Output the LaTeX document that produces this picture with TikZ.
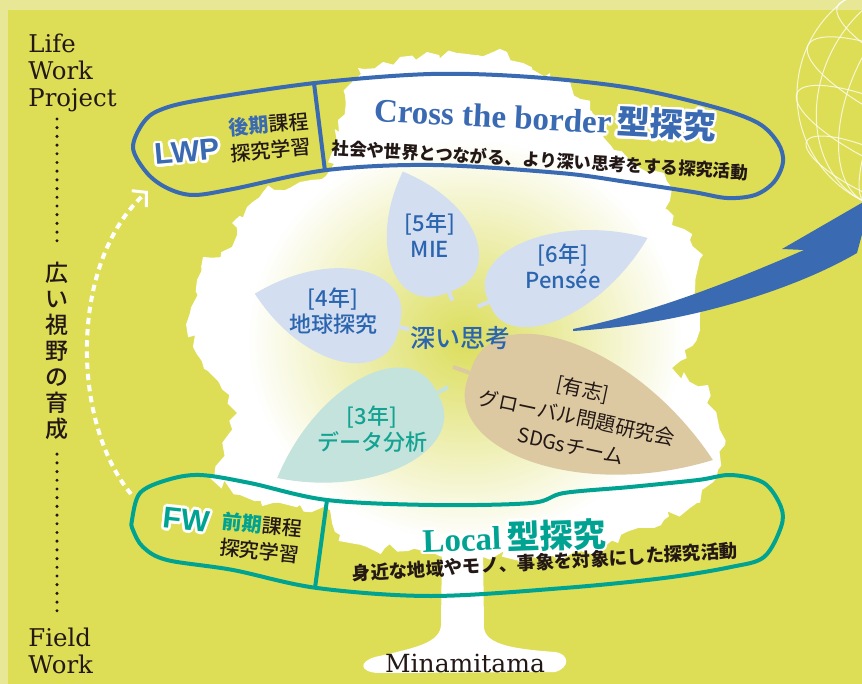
\documentclass[tikz,border=0pt]{standalone}
\usepackage{fontspec}
\usepackage[copies]{contour}
\usetikzlibrary{arrows.meta,decorations.pathmorphing,fadings}

\newfontfamily\jp{Noto Sans CJK JP}
\newfontfamily\jpmed{Noto Sans CJK JP Medium}
\newfontfamily\seriffont{DejaVu Serif}
\newfontfamily\titlefont{Liberation Serif}
\newfontfamily\headfont{Liberation Sans}

\definecolor{bgyellow}{RGB}{221,222,86}
\definecolor{stripc}{RGB}{232,231,150}
\definecolor{lwpblue}{RGB}{58,106,178}
\definecolor{fwteal}{RGB}{0,163,145}
\definecolor{leafblue}{RGB}{211,223,240}
\definecolor{leafteal}{RGB}{196,227,221}
\definecolor{leaftan}{RGB}{220,201,162}
\definecolor{glowc}{RGB}{220,222,92}
\definecolor{ink}{RGB}{35,24,21}
\definecolor{txtblue}{RGB}{43,100,175}
\definecolor{txtteal}{RGB}{20,163,146}

\contourlength{1.3pt}
\tikzfading[name=glowfade, inner color=transparent!0, outer color=transparent!100]

% leaf: colour, base point, direction, length, half width
\newcommand{\leaf}[5]{%
  \begin{scope}[shift={#2}, rotate=#3]
    \fill[#1] (0,0) .. controls (-0.03*#4,1.3*#5) and (0.55*#4,1.4*#5) .. (#4,0)
      .. controls (0.55*#4,-1.4*#5) and (-0.03*#4,-1.3*#5) .. cycle;
    \draw[#1, line width=2pt] (0,0) -- (-0.07*#4,0);
  \end{scope}}

\tikzset{
  boxline/.style={line width=2pt},
  sidelabel/.style={font=\seriffont\fontsize{12.2}{13.3}\selectfont, text=ink, align=left, inner sep=0pt},
  dotline/.style={ink, line width=1.7pt, line cap=round, dash pattern=on 0pt off 4.35pt},
  tag/.style={font=\headfont\bfseries\fontsize{15}{15}\selectfont, inner sep=0pt},
  course/.style={font=\jpmed\fontsize{10}{13}\selectfont, text=ink, align=center, inner sep=0pt},
  title/.style={font=\fontsize{16.5}{16.5}\selectfont, inner sep=0pt},
  subtitle/.style={font=\jp\bfseries\fontsize{8.7}{8.7}\selectfont, text=ink, inner sep=0pt},
  leaftext/.style={font=\jpmed\fontsize{11}{13}\selectfont, align=center, inner sep=0pt},
  globe/.style={white, opacity=0.75, line width=0.5pt},
}

\begin{document}
\begin{tikzpicture}[x=0.5pt, y=-0.5pt]
\useasboundingbox (0,0) rectangle (862,684);
\clip (0,0) rectangle (862,684);

% background
\fill[stripc] (0,0) rectangle (862,684);
\fill[bgyellow] (8,10) rectangle (862,684);

% globe in the corner
\begin{scope}[shift={(915,95)}, rotate=-25]
  \draw[globe] (0,0) circle (59pt);
  \foreach \r in {14,32,47} \draw[globe] (0,0) ellipse (\r pt and 59pt);
  \foreach \h in {-44,-24,0,24,44} {
    \pgfmathsetmacro{\w}{sqrt(59*59-\h*\h)}
    \draw[globe] (0pt,\h pt) ellipse (\w pt and 0.28*\w pt);
  }
\end{scope}

% tree
\pgfmathsetseed{4}
\fill[white, decorate, decoration={random steps, segment length=4pt, amplitude=3pt}]
  (263,192) -- (300,182) -- (326,176) -- (333,150) -- (338,120) -- (345,95)
  -- (358,68) -- (383,62) -- (400,57) -- (427,52) -- (457,53) -- (477,55)
  -- (507,52) -- (523,63) -- (550,73) -- (570,82) -- (590,110) -- (614,150)
  -- (640,168) -- (664,173) -- (672,188) -- (668,210) -- (672,225) -- (690,240)
  -- (703,255) -- (695,290) -- (705,305) -- (700,330) -- (672,368) -- (708,385)
  -- (707,403) -- (725,445) -- (718,470) -- (702,490) -- (697,503) -- (664,520)
  -- (638,528) -- (618,543) -- (598,553) -- (531,557) -- (483,557) -- (442,557)
  -- (433,553) -- (367,547) -- (340,535) -- (330,510) -- (300,505) -- (273,503)
  -- (240,495) -- (210,478) -- (223,447) -- (237,413) -- (217,380) -- (193,347)
  -- (190,313) -- (197,280) -- (203,257) -- (232,247) -- (232,223) -- (247,207)
  -- cycle;
\fill[white] (442,545) -- (483,545) -- (484,628)
  .. controls (486,645) and (515,649) .. (555,652)
  .. controls (570,654) and (570,668) .. (555,672) -- (378,673)
  .. controls (360,672) and (358,662) .. (375,657)
  .. controls (415,648) and (440,643) .. (441,625) -- cycle;
\fill[glowc, path fading=glowfade] (465,340) ellipse (108pt and 100pt);

% leaves
\leaf{leafblue}{(449,292)}{111}{129}{44}
\leaf{leafblue}{(489,302)}{22}{171}{42}
\leaf{leafblue}{(399,327)}{167}{148}{46}
\leaf{leafteal}{(437,393)}{-152}{181}{48}
\leaf{leaftan}{(470,373)}{-19.7}{258}{62}

\node[leaftext, text=txtblue] (mie) at (430,235) {[5年]\\MIE};
\node[leaftext, text=txtblue] (pensee) at (563,266) {[6年]\\Pensée};
\node[leaftext, text=txtblue] (chikyu) at (333,311) {[4年]\\地球探究};
\node[leaftext, text=txtteal] (data) at (372,429) {[3年]\\データ分析};
\node[leaftext, font=\jp\fontsize{10}{14.5}\selectfont, text=ink, rotate=-12] (yushi) at (577,417)
  {[有志]\\グローバル問題研究会\\SDGsチーム};
\node[font=\jpmed\fontsize{12.5}{12.5}\selectfont, text=txtblue, inner sep=0pt] (think) at (460,338) {深い思考};

% upper course
\draw[lwpblue, boxline] plot[smooth cycle, tension=0.55] coordinates {
  (133,148) (143,123) (160,110) (200,100) (315,83) (431,74) (531,77) (631,88)
  (714,107) (758,123) (778,143) (783,162) (774,182) (755,195) (727,198) (693,192)
  (627,182) (560,173) (433,165) (327,170) (233,189) (193,195) (167,188) (147,173)};
\coordinate (lwpdivtop) at (314,83);
\coordinate (lwpdivbot) at (325,171);
\draw[lwpblue, boxline] (lwpdivtop) -- (lwpdivbot);
\node[tag, text=lwpblue, rotate=5] (lwp) at (187,153) {\contour{white}{LWP}};
\node[course, rotate=5] (lwpcourse) at (270,137) {{\color{lwpblue}\bfseries 後期}課程\\探究学習};
\node[title, text=lwpblue, rotate=-3] (cross) at (545,119)
  {\contour{white}{{\titlefont\bfseries Cross the border}\,{\jp\bfseries 型探究}}};
\node[subtitle, rotate=-3.4] (crosssub) at (540,160) {社会や世界とつながる、より深い思考をする探究活動};

% lower course
\draw[fwteal, boxline] plot[smooth cycle, tension=0.55] coordinates {
  (132,520) (140,493) (167,480) (200,475) (250,483) (327,500) (433,505) (531,503)
  (564,493) (630,487) (698,480) (731,475) (764,483) (781,507) (781,527) (764,557)
  (731,567) (664,578) (564,588) (431,596) (317,588) (233,570) (167,560) (143,547)
  (133,530)};
\coordinate (fwdivtop) at (327,500);
\coordinate (fwdivbot) at (315,588);
\draw[fwteal, boxline] (fwdivtop) -- (fwdivbot);
\node[tag, text=fwteal, rotate=-6] (fw) at (186,521) {\contour{white}{FW}};
\node[course, rotate=-6] (fwcourse) at (261,538) {{\color{fwteal}\bfseries 前期}課程\\探究学習};
\node[title, text=fwteal, rotate=2] (local) at (514,538)
  {\contour{white}{{\titlefont\bfseries Local}\,{\jp\bfseries 型探究}}};
\node[subtitle, font=\jp\bfseries\fontsize{9.2}{9.2}\selectfont, rotate=3.4] (localsub) at (545,562)
  {身近な地域やモノ、事象を対象にした探究活動};

% swoosh out to the world
\fill[lwpblue] (573,331) .. controls (680,325) and (790,292) .. (857,253)
  -- (872,197) -- (782,249) -- (804,250)
  .. controls (735,280) and (655,312) .. (573,329) -- cycle;

% from local to global
\coordinate (fwstart) at (131,494);
\coordinate (lwpend) at (148,191);
\draw[white, line width=2pt, dash pattern=on 3.2pt off 2.4pt,
  -{Straight Barb[length=5pt, width=11pt, line width=1.5pt]}]
  (fwstart) .. controls (70,420) and (70,260) .. (lwpend);

% side labels
\node[sidelabel, anchor=north west] (lwplabel) at (28,34) {Life\\Work\\Project};
\node[sidelabel, anchor=north west] (fieldlabel) at (28,628) {Field\\Work};
\node[font=\jpmed\fontsize{11.5}{13}\selectfont, text=ink, align=center, inner sep=0pt]
  (vtext) at (57,351) {広\\い\\視\\野\\の\\育\\成};
\path (vtext.north |- lwplabel.south) ++(0,7) coordinate (dottop);
\path (vtext.south |- fieldlabel.north) ++(0,-14) coordinate (dotbot);
\draw[dotline] (dottop) -- ([yshift=7.5pt]vtext.north);
\draw[dotline] ([yshift=-7pt]vtext.south) -- (dotbot);

\node[font=\seriffont\fontsize{12.5}{12.5}\selectfont, text=ink, anchor=base, inner sep=0pt]
  (town) at (465,672) {Minamitama};
\end{tikzpicture}
\end{document}
